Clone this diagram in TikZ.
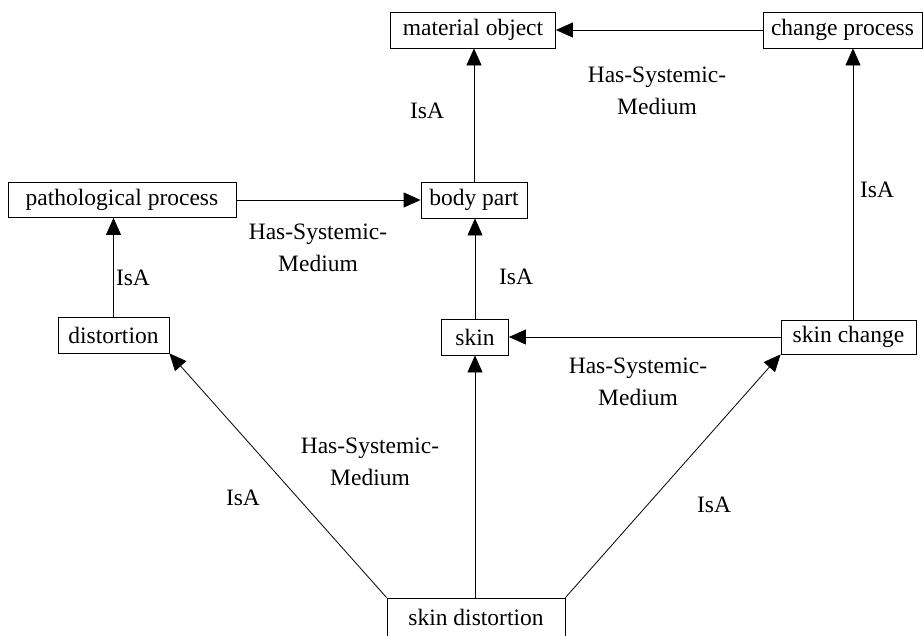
\documentclass[tikz,border=0pt]{standalone}
\usepackage{fontspec}
\setmainfont{Liberation Serif}
\usetikzlibrary{arrows.meta}
\begin{document}
\begin{tikzpicture}[x=1pt,y=-1pt,
  box/.style={draw, line width=0.8pt, minimum height=36pt, inner sep=0pt,
    font=\fontsize{23.5}{29}\selectfont},
  lbl/.style={align=center, inner sep=0pt, font=\fontsize{23.5}{32}\selectfont},
  link/.style={line width=0.8pt, -{Triangle[length=17pt,width=15pt]}}]
\useasboundingbox (0,0) rectangle (923,635);
% nodes
\node[box, minimum width=165pt] (mo) at (473,30) {material object};
\node[box, minimum width=159pt] (cp) at (842.5,30) {change process};
\node[box, minimum width=228pt, minimum height=35pt] (pp) at (122,200) {pathological process};
\node[box, minimum width=106pt] (bp) at (474,200) {body part};
\node[box, minimum width=111pt] (dist) at (113.5,335) {distortion};
\node[box, minimum width=67pt] (skin) at (475,337) {skin};
\node[box, minimum width=135pt, minimum height=34pt] (sc) at (848.5,337) {skin change};
\node[box, minimum width=178pt, minimum height=38pt] (sd) at (476,617) {skin distortion};
\coordinate (sccp) at (853,0);
% connectors
\draw[link] (cp) -- (mo);
\draw[link] (bp.north) -- (bp.north |- mo.south);
\draw[link] (pp) -- (bp);
\draw[link] (skin.north) -- (skin.north |- bp.south);
\draw[link] (sc.north -| sccp) -- (cp.south -| sccp);
\draw[link] (dist.north) -- (dist.north |- pp.south);
\draw[link] (sc.west) -- (skin.east);
\draw[link] (sd.north west) -- (dist.south east);
\draw[link] (sd.north -| skin) -- (skin.south);
\draw[link] (sd.north east) -- (sc.south west);
% labels
\node[lbl] (l1) at (427,111) {IsA};
\node[lbl] (l2) at (657,91) {Has-Systemic-\\Medium};
\node[lbl] (l3) at (877,190) {IsA};
\node[lbl] (l4) at (318,248) {Has-Systemic-\\Medium};
\node[lbl] (l5) at (133,278) {IsA};
\node[lbl] (l6) at (516,277) {IsA};
\node[lbl] (l7) at (638,382) {Has-Systemic-\\Medium};
\node[lbl] (l8) at (370,462) {Has-Systemic-\\Medium};
\node[lbl] (l9) at (243,498) {IsA};
\node[lbl] (l10) at (714,505) {IsA};
\end{tikzpicture}
\end{document}
